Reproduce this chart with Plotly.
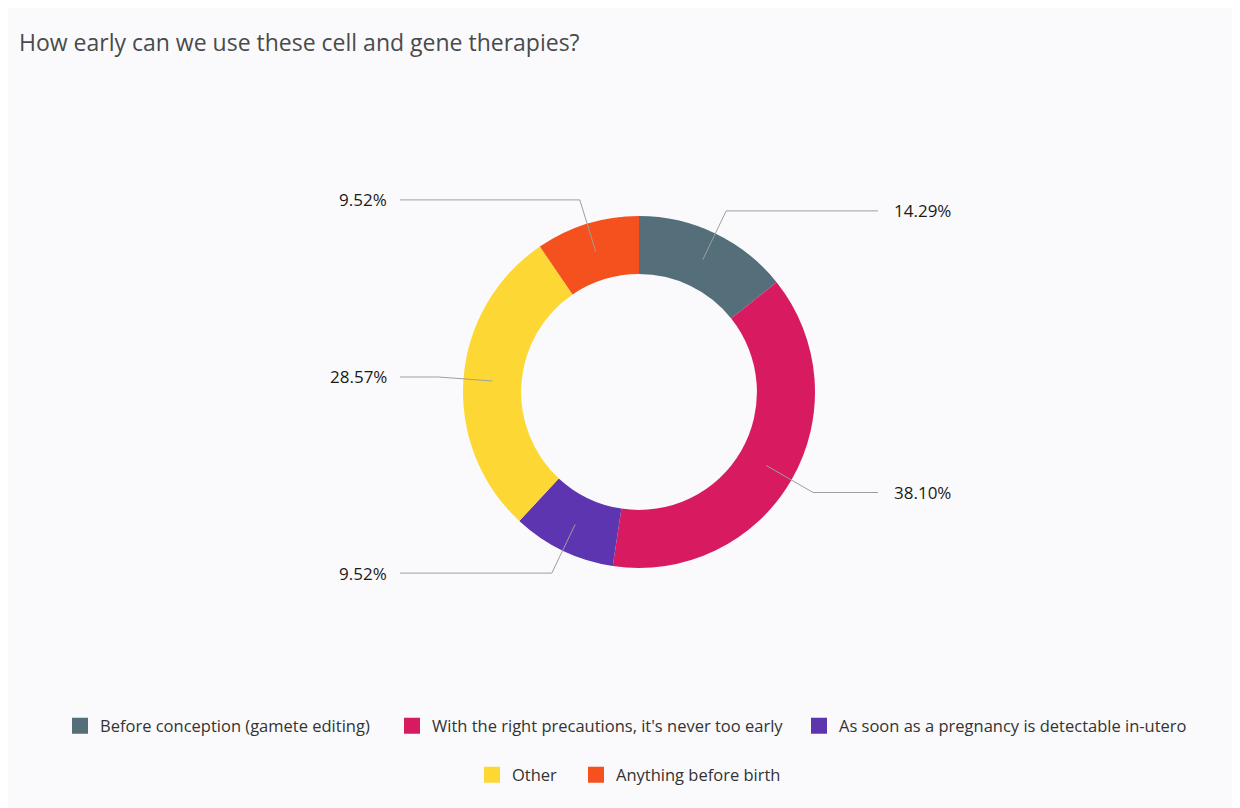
import plotly.graph_objects as go
import numpy as np

categories = ['Before conception (gamete editing)',
              "With the right precautions, it's never too early",
              'As soon as a pregnancy is detectable in-utero',
              'Other',
              'Anything before birth']
counts = [3, 8, 2, 6, 2]
colors = ['#546E7A', '#D81B60', '#5E35B1', '#FDD835', '#F4511E']

W, H = 1240, 808
OFF = 8  # page margin of the html body
cx, cy, R = 639 - OFF, 392 - OFF, 176

# legend entry positions (swatch left edge, row centre) in screen pixels
legend_x = [72, 404, 811, 484, 588]
legend_y = [726, 726, 726, 775, 775]

fig = go.Figure()

fig.add_trace(go.Pie(
    labels=categories, values=counts, hole=0.67, sort=False,
    direction='clockwise', rotation=0, textinfo='none',
    marker=dict(colors=colors, line=dict(width=0)),
    domain=dict(x=[(cx - R) / W, (cx + R) / W], y=[(H - cy - R) / H, (H - cy + R) / H]),
    showlegend=False, hoverinfo='label+percent'))

legends = {}
for i, name in enumerate(categories):
    key = 'legend' if i == 0 else f'legend{i + 1}'
    fig.add_trace(go.Scatter(
        x=[None], y=[None], mode='markers', name=name,
        marker=dict(symbol='square', size=17, color=colors[i]),
        legend=key))
    legends[key] = dict(orientation='h', x=(legend_x[i] - OFF - 12) / W, xanchor='left',
                        y=(H - legend_y[i] + OFF) / H, yanchor='middle',
                        font=dict(size=16.5, color='#333333'), bgcolor='rgba(0,0,0,0)')

# leader lines and labels, placed from the slice mid angles
total = sum(counts)
shares = np.array(counts) / total
start = 0.0
shapes = []
annotations = []
for s in shares:
    mid = (start + s / 2) * 2 * np.pi
    start += s
    dx, dy = np.sin(mid), -np.cos(mid)
    x0, y0 = cx + 147 * dx, cy + 147 * dy
    x1, y1 = cx + 201 * dx, cy + 201 * dy
    right = dx > 0
    x2 = 878 - OFF if right else 400 - OFF
    shapes.append(dict(type='path', xref='x', yref='y', layer='above',
                       path=f'M {x0:.1f} {y0:.1f} L {x1:.1f} {y1:.1f} L {x2} {y1:.1f}',
                       line=dict(color='#9e9e9e', width=1)))
    annotations.append(dict(x=(892 if right else 389) - OFF, y=y1, xref='x', yref='y',
                            text=f'{s * 100:.2f}%', showarrow=False,
                            xanchor='left' if right else 'right', yanchor='middle',
                            font=dict(size=17, color='#1a1a1a')))

fig.update_layout(
    width=W, height=H,
    paper_bgcolor='#fafafc', plot_bgcolor='#fafafc',
    margin=dict(l=0, r=0, t=0, b=0),
    font=dict(family='Open Sans, sans-serif', color='#333333'),
    title=dict(text='How early can we use these cell and gene therapies?',
               x=(19 - OFF) / W, xanchor='left', y=1 - (43 - OFF) / H, yanchor='middle',
               font=dict(size=23, color='#4a4a4a')),
    xaxis=dict(range=[0, W], visible=False, fixedrange=True),
    yaxis=dict(range=[H, 0], visible=False, fixedrange=True),
    shapes=shapes, annotations=annotations,
    **legends,
)

fig.write_html('out.html')
